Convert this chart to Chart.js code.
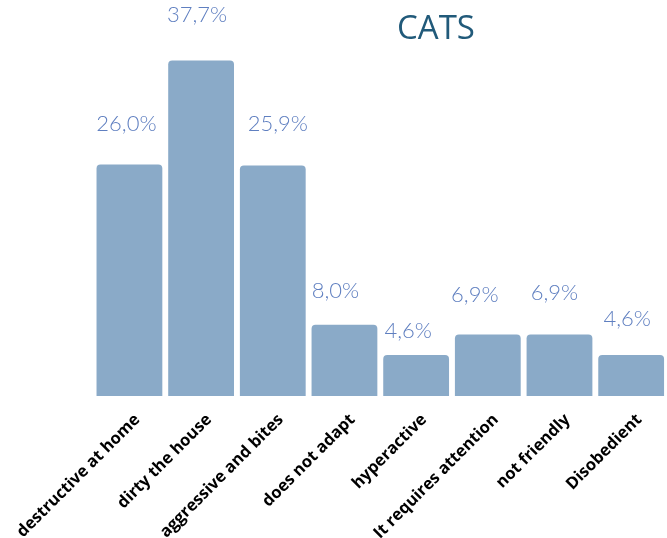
<!DOCTYPE html>
<html>
<head>
<meta charset="utf-8">
<script src="https://cdn.jsdelivr.net/npm/chart.js@4"></script>
<style>
  html, body { margin: 0; padding: 0; background: #fff; overflow: hidden; }
</style>
</head>
<body>
<canvas id="catsChart" width="667" height="538"></canvas>
<script>
// Reasons given for cats, share of answers in percent
const categories = ['destructive at home', 'dirty the house', 'aggressive and bites', 'does not adapt',
                    'hyperactive', 'It requires attention', 'not friendly', 'Disobedient'];
const shares = [26.0, 37.7, 25.9, 8.0, 4.6, 6.9, 6.9, 4.6];
const chartTitle = 'CATS';

// Draws the percentage above every bar and the title text
const labelPlugin = {
    id: 'barLabels',
    afterDatasetsDraw(chart, args, opts) {
        const c = chart.ctx;
        const meta = chart.getDatasetMeta(0);
        c.save();
        c.fillStyle = '#5f7fc0';
        c.font = '300 22px Lato, "Open Sans", sans-serif';
        c.textAlign = 'center';
        c.textBaseline = 'middle';
        meta.data.forEach((bar, i) => {
            const txt = shares[i].toFixed(1).replace('.', ',') + '%';
            // small hand nudges so the labels sit where the original put them
            c.fillText(txt, bar.x + opts.dx[i], bar.y - opts.lift[i]);
        });
        c.fillStyle = '#215a7a';
        c.font = '400 33px "Open Sans", sans-serif';
        c.fillText(chartTitle, 436, 30);
        c.restore();
    }
};

const ctx = document.getElementById('catsChart').getContext('2d');
new Chart(ctx, {
    type: 'bar',
    data: {
        labels: categories,
        datasets: [{
            data: shares,
            backgroundColor: '#8aaac8',
            borderRadius: { topLeft: 4, topRight: 4, bottomLeft: 0, bottomRight: 0 },
            borderSkipped: 'bottom',
            categoryPercentage: 1,
            barPercentage: 0.918
        }]
    },
    options: {
        responsive: false,
        animation: false,
        layout: { padding: { left: 92, right: 0, top: 40, bottom: 0 } },
        plugins: {
            legend: { display: false },
            tooltip: { enabled: false },
            barLabels: {
                lift: [41, 46, 42, 34, 24, 40, 42, 36],
                dx: [-3, -4, 5, -9, -8, -13, -5, -4]
            }
        },
        scales: {
            x: {
                grid: { display: false },
                border: { display: false },
                // fixed axis height so the bars stand on y = 396 like the original
                afterFit: (scale) => { scale.height = 142; },
                ticks: {
                    color: '#000',
                    font: { family: '"Open Sans", sans-serif', size: 16.5, weight: 'bold' },
                    minRotation: 45,
                    maxRotation: 45,
                    padding: 6,
                    labelOffset: 8
                }
            },
            y: {
                display: false,
                min: 0,
                max: 40
            }
        }
    },
    plugins: [labelPlugin]
});
</script>
</body>
</html>
